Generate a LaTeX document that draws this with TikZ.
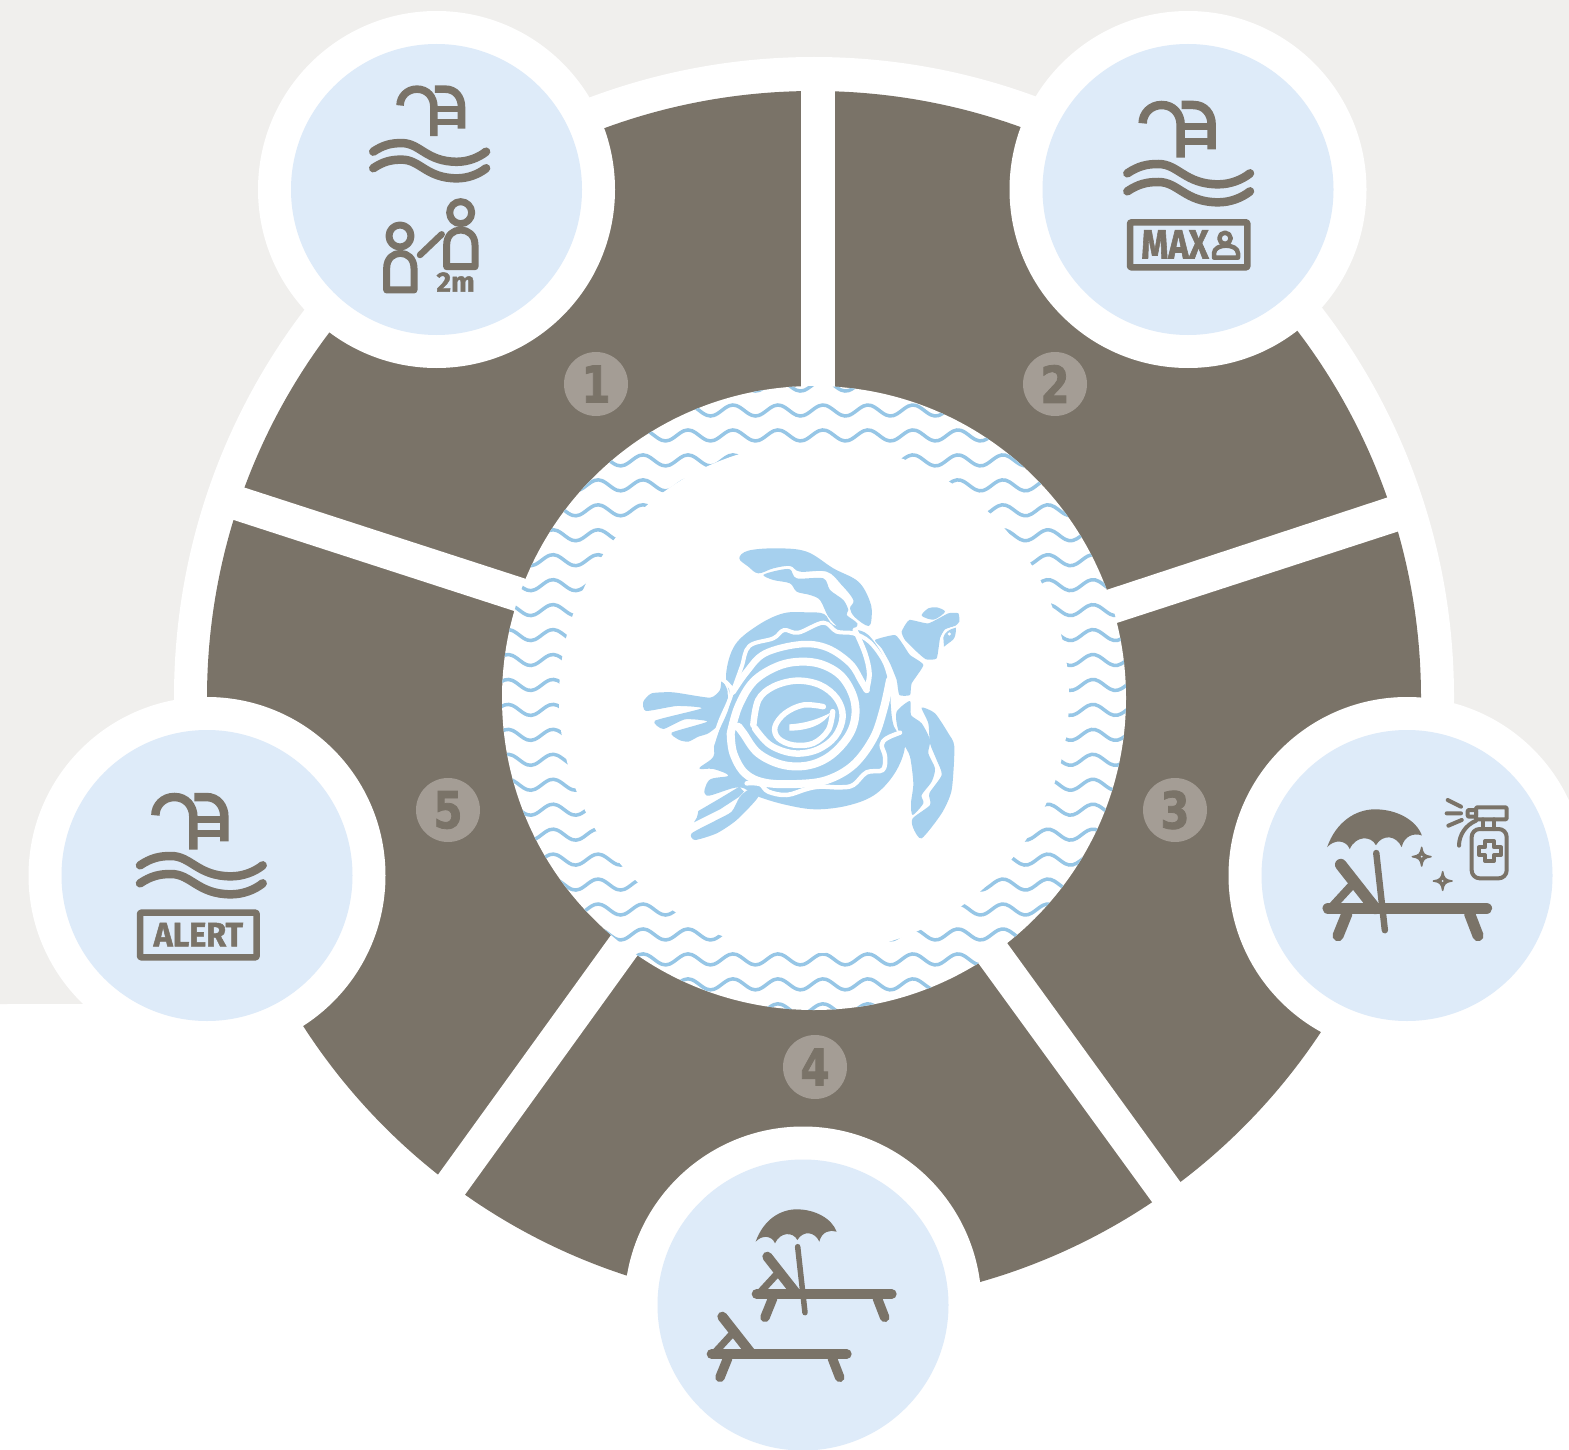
\documentclass[tikz,border=0pt]{standalone}
\usepackage{fontspec}
\setmainfont{Fira Sans}
\newfontfamily\hv[BoldFeatures={FakeBold=1.6}]{Fira Sans}
\newfontfamily\djv[FakeStretch=.82,BoldFeatures={FakeBold=1.5}]{DejaVu Sans}
\definecolor{brn}{HTML}{7A7368}
\definecolor{bub}{HTML}{DEEBF9}
\definecolor{gbg}{HTML}{F0EFED}
\definecolor{bdg}{HTML}{A49D95}
\definecolor{wav}{HTML}{96C6E6}
\definecolor{tur}{HTML}{A6D0EE}
\tikzset{
  badge/.style={circle,fill=bdg,text=brn,minimum size=64pt,inner sep=0pt,font=\djv\bfseries\fontsize{51}{51}\selectfont},
  ring/.style={fill=white},
  disc/.style={fill=bub},
  ln/.style={draw=brn,line cap=round,line join=round},
  tb/.style={fill=tur,draw=none},
  tw/.style={draw=white,line width=6.5pt,line cap=round,line join=round},
  lab/.style={text=brn,inner sep=0pt,font=\bfseries},
}
\newcommand{\ladic}[3]{\begin{scope}[shift={(#1,#2)},scale=#3/3]
 \draw[brn,line width=#3*8.5pt] (98,100) .. controls (98,70) and (122,45) .. (155,45) .. controls (190,45) and (212,72) .. (212,105) -- (212,203);
 \draw[brn,line width=#3*8.5pt] (215,45) -- (250,45) .. controls (285,45) and (305,72) .. (305,105) -- (305,178);
 \draw[brn,line width=#3*7pt] (212,111) -- (305,111) (212,155) -- (305,155);
\end{scope}}
\newcommand{\wavic}[3]{\begin{scope}[shift={(#1,#2)},scale=#3/3]
 \draw[ln,line width=8.5pt] (52,250) .. controls (85,228) and (110,222) .. (145,222) .. controls (205,222) and (225,283) .. (325,283) .. controls (360,283) and (395,270) .. (420,250);
 \draw[ln,line width=8.5pt] (52,304) .. controls (85,282) and (110,276) .. (145,276) .. controls (205,276) and (225,337) .. (325,337) .. controls (360,337) and (395,324) .. (420,304);
\end{scope}}
\newcommand{\chairic}[3]{\begin{scope}[shift={(#1,#2)},scale=#3/3]
 \draw[ln,line width=#3*10pt] (200,312) -- (605,312);
 \draw[ln,line width=#3*10pt] (232,200) -- (320,312);
 \draw[ln,line width=#3*7pt] (258,255) -- (212,305);
 \draw[ln,line width=#3*9.5pt] (248,325) -- (225,382);
 \draw[ln,line width=#3*9.5pt] (562,325) -- (584,382);
\end{scope}}
\newcommand{\umbic}[3]{\begin{scope}[shift={(#1,#2)},scale=#3/3]
 \draw[ln,line width=#3*5.5pt] (323,170) -- (345,368);
 \fill[brn] (197,155) .. controls (220,90) and (270,58) .. (320,58) .. controls (375,58) and (425,85) .. (440,125)
   .. controls (420,118) and (395,125) .. (388,155) .. controls (375,125) and (340,120) .. (322,150)
   .. controls (310,125) and (270,125) .. (255,160) .. controls (245,135) and (215,135) .. (197,155) -- cycle;
\end{scope}}
\newcommand{\sparkic}[2]{\fill[brn,draw=brn,line width=1.5pt,line join=round] (#1,#2-28) .. controls (#1+3,#2-8) and (#1+8,#2-3) .. (#1+28,#2) .. controls (#1+8,#2+3) and (#1+3,#2+8) .. (#1,#2+28) .. controls (#1-3,#2+8) and (#1-8,#2+3) .. (#1-28,#2) .. controls (#1-8,#2-3) and (#1-3,#2-8) .. (#1,#2-28) -- cycle;
 \fill[bub] (#1,#2) circle[radius=3];}
\begin{document}
\begin{tikzpicture}[x=1pt,y=-1pt]
\useasboundingbox (0,0) rectangle (1569,1450);
\clip (0,0) rectangle (1569,1450);
% background
\fill[white] (0,0) rectangle (1569,1450);
\fill[gbg] (0,0) -- (1569,0) -- (1569,900) -- (800,1003) -- (0,1004) -- cycle;
\fill[white] (814,697) circle[radius=640];
% annulus
\fill[brn] (814,698) circle[radius=607];
% gaps
\fill[white] (801,80) rectangle (835,420);
\fill[white] (1413,489) -- (1424,523) -- (1089,632) -- (1079,599) -- cycle;
\fill[white] (1213,1227) -- (1184,1246) -- (944,916) -- (973,896) -- cycle;
\fill[white] (406,1219) -- (433,1239) -- (671,909) -- (645,888) -- cycle;
\fill[white] (218,479) -- (206,511) -- (542,620) -- (554,588) -- cycle;
% inner disc with waves
\fill[white] (814,698) circle[radius=312];
\begin{scope}
 \clip (814,698) circle[radius=312];
 \foreach \k in {-1,...,24}{
  \pgfmathsetmacro{\Y}{410.5+24.95*\k}
  \draw[wav,line width=3.5pt] plot[smooth,domain=490:1140,samples=175] (\x,{\Y-5.5*cos(8*(\x-598))});
 }
\end{scope}
\fill[white] (814,698) circle[radius=255];
% circles
\fill[ring] (436.5,189.5) circle[radius=178.5];
\fill[disc] (436.5,189.5) circle[radius=145.5];
\fill[ring] (1188,189.5) circle[radius=178.5];
\fill[disc] (1188,189.5) circle[radius=145.5];
\fill[ring] (1407,875.5) circle[radius=178.5];
\fill[disc] (1407,875.5) circle[radius=145.5];
\fill[ring] (803,1305) circle[radius=178.5];
\fill[disc] (803,1305) circle[radius=145.5];
\fill[ring] (207,875.5) circle[radius=178.5];
\fill[disc] (207,875.5) circle[radius=145.5];
% badges
\node[badge] (n1) at (596,384) {1};
\node[badge] (n2) at (1055,384) {2};
\node[badge] (n3) at (1175,810) {3};
\node[badge] (n4) at (815,1067) {4};
\node[badge] (n5) at (448,810) {5};
% icons: circle 1
\ladic{371}{75.8}{0.89}
\wavic{357.3}{75}{0.92}
\begin{scope}[shift={(340,70)},scale=1/3]
 \draw[ln,line width=7pt] (180,498) circle[radius=33];
 \draw[ln,line width=7pt] (362,428) circle[radius=33];
 \draw[ln,line width=7pt] (140,660) -- (140,595) .. controls (140,565) and (160,550) .. (181,550) .. controls (202,550) and (222,565) .. (222,595) -- (222,660) -- cycle;
 \draw[ln,line width=7pt] (320,590) -- (320,525) .. controls (320,495) and (340,480) .. (362,480) .. controls (384,480) and (405,495) .. (405,525) -- (405,590) -- cycle;
 \draw[ln,line width=6.5pt] (240,555) -- (305,493);
 \node[lab,font=\hv\bfseries\fontsize{28}{28}\selectfont] (twom) at (347,636) {2m};
\end{scope}
% circle 2
\ladic{1110}{90}{1}
\wavic{1110}{90}{1}
\begin{scope}[shift={(1110,90)},scale=1/3]
 \draw[ln,line width=6.5pt,rounded corners=1pt] (60,397) rectangle (412,532);
 \node[lab,xscale=.84,font=\hv\bfseries\fontsize{41}{41}\selectfont] (maxt) at (195,463) {MAX};
 \draw[ln,line width=4.5pt] (345,445) circle[radius=17];
 \draw[ln,line width=4.5pt] (312,503) -- (312,490) .. controls (312,475) and (330,467) .. (348,467) .. controls (366,467) and (384,475) .. (384,490) -- (384,503) -- cycle;
\end{scope}
% circle 3
\chairic{1250.3}{786.7}{1.17}
\umbic{1250.3}{786.7}{1.17}
\begin{scope}[shift={(1300,780)},scale=1/3]
 \draw[ln,line width=4pt,rounded corners=8pt] (515,147) rectangle (620,295);
 \draw[ln,line width=4pt] (548,118) -- (548,147) (582,118) -- (582,147);
 \draw[ln,line width=4pt,rounded corners=1pt] (528,82) rectangle (620,118);
 \draw[ln,line width=4pt,rounded corners=1pt] (503,90) rectangle (528,110);
 \draw[ln,line width=4pt] (528,122) .. controls (497,135) and (477,165) .. (477,197);
 \draw[ln,line width=4pt] (555,183) -- (582,183) -- (582,202) -- (603,202) -- (603,225) -- (582,225) -- (582,243) -- (555,243) -- (555,225) -- (537,225) -- (537,202) -- (555,202) -- cycle;
 \draw[ln,line width=4pt] (443,60) -- (483,80) (440,100) -- (483,100) (445,137) -- (485,120);
 \sparkic{365}{230}
 \sparkic{428}{303}
\end{scope}
% circle 4
\chairic{690}{1190}{1}
\umbic{690}{1190}{1}
\chairic{645}{1250}{1}
% circle 5
\ladic{122.7}{782}{1}
\wavic{122.7}{782}{1}
\begin{scope}[shift={(120,780)},scale=1/3]
 \draw[ln,line width=6.5pt,rounded corners=1pt] (60,398) rectangle (410,532);
 \node[lab,xscale=.95,font=\hv\bfseries\fontsize{34}{34}\selectfont] (alrt) at (235,464) {ALERT};
\end{scope}
% turtle
\begin{scope}[shift={(620,530)},scale=1/3]
 % top flipper
 \fill[tb] plot[smooth cycle,tension=.6] coordinates {(358,85) (385,62) (470,55) (560,65) (640,115) (715,155) (750,215) (755,260) (745,288) (705,262) (690,235) (700,210) (665,165) (620,125) (540,125) (510,108) (460,115) (415,130) (385,110)};
 \fill[tb] plot[smooth cycle,tension=.5] coordinates {(430,135) (470,122) (510,118) (530,145) (610,145) (630,180) (670,210) (685,240) (680,255) (712,280) (700,297) (660,295) (625,260) (600,210) (570,195) (530,185) (510,160) (460,150)};
 % body
 \fill[tb] plot[smooth cycle,tension=.6] coordinates {(318,435) (345,345) (415,285) (490,250) (560,247) (612,252) (640,285) (700,297) (745,315) (790,380) (812,450) (812,520) (822,590) (855,640) (830,720) (770,790) (690,825) (590,838) (500,825) (415,800) (356,772) (260,797) (268,750) (325,737) (280,717) (238,715) (280,680) (285,630) (330,520)};
 % tail fin
 \fill[tb] plot[smooth cycle,tension=.35] coordinates {(70,515) (95,490) (160,487) (270,503) (300,480) (305,450) (322,480) (322,520) (300,580) (265,610) (235,620) (205,635) (178,630) (155,608) (262,575) (195,568) (130,597) (105,572) (245,535) (170,528) (78,543)};
 % rear strips
 \fill[tb] (358,770) -- (300,805) -- (235,843) .. controls (232,860) and (230,868) .. (222,877) -- (300,838) -- (358,800) -- (372,785) -- cycle;
 \fill[tb] plot[smooth cycle,tension=.4] coordinates {(358,803) (335,845) (290,870) (215,910) (225,930) (290,910) (350,870) (415,800) (385,780)};
 % neck and head
 \fill[tb] plot[smooth cycle,tension=.3] coordinates {(765,330) (825,315) (850,345) (870,375) (910,405) (875,460) (870,495) (838,495) (830,450) (810,400) (785,355)};
 \fill[tb] plot[smooth cycle,tension=.3] coordinates {(845,305) (868,270) (925,280) (985,250) (1015,250) (1018,275) (1005,288) (975,298) (960,325) (950,385) (918,388) (890,365) (855,330)};
 \fill[tb] plot[smooth cycle,tension=.5] coordinates {(905,255) (925,235) (950,232) (975,245) (945,268) (920,265)};
 \fill[white] (960,330) .. controls (965,305) and (985,290) .. (1012,288) -- (1012,330) -- (970,356) -- cycle;
 \fill[tb] (970,322) .. controls (975,305) and (990,297) .. (1008,293) .. controls (1008,310) and (1005,322) .. (1000,328) .. controls (990,338) and (980,342) .. (972,350) -- cycle;
 \fill[white] (988,312) circle[radius=5];
 % right flippers
 \fill[tb] plot[smooth cycle,tension=.45] coordinates {(830,545) (870,513) (873,555) (905,580) (930,630) (925,670) (945,715) (935,755) (905,795) (910,820) (878,855) (873,820) (880,760) (870,680) (850,640) (832,590)};
 \fill[tb] plot[smooth cycle,tension=.4] coordinates {(905,533) (945,550) (985,610) (1003,650) (995,780) (965,850) (905,925) (880,895) (878,865) (930,825) (928,790) (965,735) (950,690) (930,640) (925,580)};
\end{scope}
% white swirl, traced in a second frame
\begin{scope}[shift={(710,610)},scale=1/3]
 \draw[tw,line width=4pt] plot[smooth,tension=.6] coordinates {(35,208) (65,245) (30,335) (5,410)};
 \draw[tw,line width=4pt] plot[smooth,tension=.6] coordinates {(68,245) (95,170) (118,108) (190,85) (222,60) (265,68) (340,38) (380,65) (430,70) (478,95) (520,150) (538,200) (540,215)};
 \draw[tw,line width=5pt] plot[smooth,tension=.6] coordinates {(435,60) (465,130) (478,190) (470,240)};
 \draw[tw] plot[smooth,tension=.6] coordinates {(68,245) (110,185) (165,130) (270,103) (350,113) (420,160) (455,215) (470,240)};
 \draw[tw,line width=8pt] plot[smooth,tension=.6] coordinates {(62,370) (70,430) (105,490) (165,518) (260,522) (350,510) (430,465) (490,385) (520,300) (540,210)};
 \draw[tw,line width=8pt] plot[smooth,tension=.6] coordinates {(62,370) (85,290) (130,215) (200,170) (270,155) (340,165) (400,205) (435,280) (425,360) (370,430) (300,465) (220,465) (145,430) (100,370) (85,350)};
 \draw[tw] plot[smooth,tension=.6] coordinates {(130,345) (145,270) (190,230) (260,212) (330,225) (380,265) (398,320) (375,380) (320,420) (250,430) (180,405) (135,355)};
 \draw[tw,line width=5.5pt] plot[smooth,tension=.6] coordinates {(340,290) (280,285) (225,310) (195,350) (205,385) (250,405) (310,400) (355,360) (368,305)};
 \fill[white] (238,343) .. controls (290,340) and (330,325) .. (362,308) .. controls (345,340) and (300,362) .. (238,362) -- cycle;
 \draw[tw,line width=4.5pt] plot[smooth,tension=.6] coordinates {(110,520) (150,522) (175,545) (230,555) (290,537) (330,530) (390,532) (430,525) (470,487) (518,480) (525,440) (515,405) (530,385) (570,368)};
\end{scope}
\end{tikzpicture}
\end{document}
